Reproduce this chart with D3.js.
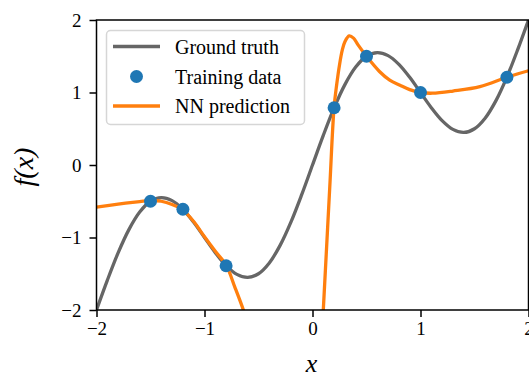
<!DOCTYPE html>
<html><head><meta charset="utf-8">
<script src="https://cdn.jsdelivr.net/npm/d3@7"></script>
<style>body{margin:0;background:#fff} svg{display:block}</style>
</head><body><svg width="529" height="378"></svg>
<script>
const xTicks = [-2, -1, 0, 1, 2];
const yTicks = [-2, -1, 0, 1, 2];

const truthX = [-2,-1.9,-1.8,-1.7,-1.6,-1.5,-1.4,-1.3,-1.2,-1.1,-1,-0.9,-0.8,-0.7,-0.6,-0.5,-0.4,-0.3,-0.2,-0.1,0,0.1,0.2,0.3,0.4,0.5,0.6,0.7,0.8,0.9,1,1.1,1.2,1.3,1.4,1.5,1.6,1.7,1.8,1.9,2];
const truthY = [-2,-1.591,-1.212,-0.891,-0.649,-0.5,-0.449,-0.491,-0.612,-0.791,-1,-1.209,-1.388,-1.509,-1.551,-1.5,-1.351,-1.109,-0.788,-0.409,0,0.409,0.788,1.109,1.351,1.5,1.551,1.509,1.388,1.209,1,0.791,0.612,0.491,0.449,0.5,0.649,0.891,1.212,1.591,2];

const trainX = [-1.5, -1.2, -0.8, 0.2, 0.5, 1.0, 1.8];
const trainY = [-0.5, -0.61, -1.39, 0.79, 1.5, 1.0, 1.21];

const nnLeftX = [-2,-1.8,-1.6,-1.5,-1.4,-1.3,-1.2,-1.1,-1.0,-0.9,-0.8,-0.72,-0.64,-0.6];
const nnLeftY = [-0.58,-0.54,-0.505,-0.49,-0.5,-0.545,-0.62,-0.78,-0.99,-1.19,-1.38,-1.68,-2.0,-2.2];
const nnRightX = [0.09,0.1,0.13,0.16,0.2,0.225,0.25,0.275,0.3,0.34,0.38,0.42,0.5,0.62,0.715,0.81,0.9,1.0,1.11,1.3,1.55,1.8,2.0];
const nnRightY = [-2.3,-2.0,-1.15,-0.3,0.8,1.12,1.38,1.58,1.70,1.78,1.75,1.66,1.5,1.29,1.17,1.10,1.04,1.0,0.99,1.02,1.08,1.21,1.30];

const legendLabels = ["Ground truth", "Training data", "NN prediction"];

const GRAY = "#666666", BLUE = "#1f77b4", ORANGE = "#ff7f0e";
const FONT = "'Liberation Serif', 'Times New Roman', serif";

const svg = d3.select("svg");
const L = 96.5, R = 528.5, T = 20, B = 310;
const x = d3.scaleLinear().domain([-2, 2]).range([L, R]);
const y = d3.scaleLinear().domain([-2, 2]).range([B, T]);

svg.append("defs").append("clipPath").attr("id", "clip")
  .append("rect").attr("x", L).attr("y", T).attr("width", R - L).attr("height", B - T);

const line = d3.line().x(d => x(d[0])).y(d => y(d[1])).curve(d3.curveCatmullRom.alpha(0.5));
const plot = svg.append("g").attr("clip-path", "url(#clip)");

plot.append("path").datum(d3.zip(truthX, truthY))
  .attr("d", line).attr("fill", "none").attr("stroke", GRAY).attr("stroke-width", 3.3);
[[nnLeftX, nnLeftY], [nnRightX, nnRightY]].forEach(([xs, ys]) => {
  plot.append("path").datum(d3.zip(xs, ys))
    .attr("d", line).attr("fill", "none").attr("stroke", ORANGE).attr("stroke-width", 3.3);
});
svg.append("g").selectAll("circle").data(d3.zip(trainX, trainY)).join("circle")
  .attr("cx", d => x(d[0])).attr("cy", d => y(d[1])).attr("r", 6.5).attr("fill", BLUE);

// axes
const xAxis = svg.append("g").attr("transform", `translate(0,${B})`)
  .call(d3.axisBottom(x).tickValues(xTicks).tickSize(7).tickPadding(5).tickFormat(d3.format("d")));
const yAxis = svg.append("g").attr("transform", `translate(${L},0)`)
  .call(d3.axisLeft(y).tickValues(yTicks).tickSize(7).tickPadding(8).tickFormat(d3.format("d")));
[xAxis, yAxis].forEach(a => {
  a.select(".domain").remove();
  a.selectAll("line").attr("stroke", "#000").attr("stroke-width", 1.5);
  a.selectAll("text").attr("font-family", FONT).attr("font-size", 19).attr("fill", "#000");
});
svg.append("rect").attr("x", L).attr("y", T).attr("width", R - L).attr("height", B - T)
  .attr("fill", "none").attr("stroke", "#000").attr("stroke-width", 1.5);

svg.append("text").attr("x", (L + R) / 2 - 1).attr("y", 372).attr("text-anchor", "middle")
  .attr("font-family", FONT).attr("font-style", "italic").attr("font-size", 26).text("x");
svg.append("text").attr("transform", `translate(33,${(T + B) / 2 + 2}) rotate(-90)`).attr("text-anchor", "middle")
  .attr("font-family", FONT).attr("font-style", "italic").attr("font-size", 28).text("f(x)");

// legend
const lg = svg.append("g");
lg.append("rect").attr("x", 106.5).attr("y", 30.5).attr("width", 198).attr("height", 94).attr("rx", 4)
  .attr("fill", "#fff").attr("fill-opacity", 0.85).attr("stroke", "#d6d6d6").attr("stroke-width", 1.5);
const rows = [46.5, 76.5, 106];
lg.append("line").attr("x1", 113).attr("x2", 160).attr("y1", rows[0]).attr("y2", rows[0]).attr("stroke", GRAY).attr("stroke-width", 3.3);
lg.append("circle").attr("cx", 136.5).attr("cy", rows[1]).attr("r", 6.5).attr("fill", BLUE);
lg.append("line").attr("x1", 113).attr("x2", 160).attr("y1", rows[2]).attr("y2", rows[2]).attr("stroke", ORANGE).attr("stroke-width", 3.3);
lg.selectAll("text.lbl").data(legendLabels).join("text").attr("class", "lbl")
  .attr("x", 175).attr("y", (d, i) => rows[i] + 7)
  .attr("font-family", FONT).attr("font-size", 20).attr("fill", "#000").text(d => d);
</script></body></html>
